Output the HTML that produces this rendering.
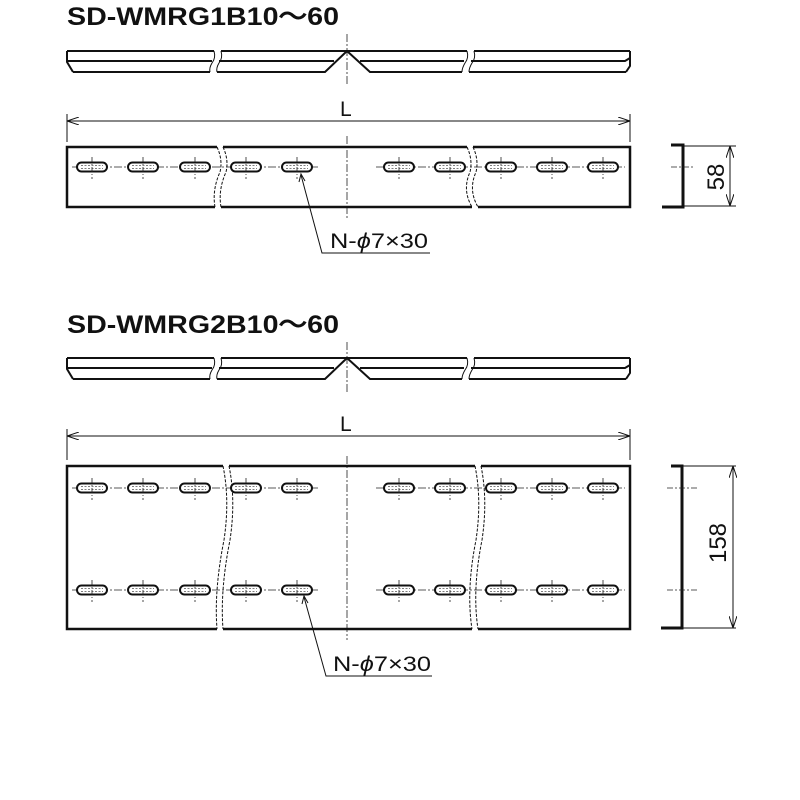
<!DOCTYPE html>
<html><head><meta charset="utf-8"><style>
html,body{margin:0;padding:0;background:#fff;}
svg{display:block;}
text{font-family:"Liberation Sans",Arial,sans-serif;fill:#111;}
</style></head><body>
<svg width="800" height="800" viewBox="0 0 800 800" xmlns="http://www.w3.org/2000/svg">
<defs>
<g id="slot">
 <rect x="-15" y="-4.5" width="30" height="9" rx="4.5" fill="#fff" stroke="#111" stroke-width="2"/>
 <line x1="-11" y1="-1.5" x2="11" y2="-1.5" stroke="#555" stroke-width="0.7" stroke-dasharray="2 1.5"/>
 <line x1="-11" y1="1.5" x2="11" y2="1.5" stroke="#555" stroke-width="0.7" stroke-dasharray="2 1.5"/>
 <line x1="0" y1="-10" x2="0" y2="12" stroke="#222" stroke-width="0.8" stroke-dasharray="5 2 1 2"/>
</g>
<g id="row">
 <line x1="72" y1="0" x2="320" y2="0" stroke="#222" stroke-width="0.8" stroke-dasharray="8 2 2 2"/>
 <line x1="376" y1="0" x2="625" y2="0" stroke="#222" stroke-width="0.8" stroke-dasharray="8 2 2 2"/>
 <use href="#slot" x="92"/><use href="#slot" x="143"/><use href="#slot" x="195"/><use href="#slot" x="246"/><use href="#slot" x="297"/>
 <use href="#slot" x="399"/><use href="#slot" x="450"/><use href="#slot" x="501"/><use href="#slot" x="552"/><use href="#slot" x="603"/>
</g>
<g id="profile" fill="none" stroke="#111" stroke-width="2">
 <path d="M67 51 H214 M221 51 H467 M474 51 H630"/>
 <path d="M67 61 H212 M219 61 H334 M360 61 H464 M471 61 H625 L630 58"/>
 <path d="M73 72 H210 M217 72 H325 L347 51 L370 72 H462 M469 72 H626"/>
 <path d="M67 51 V62 L73 72"/>
 <path d="M630 51 V66 L626 72"/>
 <path d="M214 51 Q216 58 212 63 Q209 68 210 72" stroke-width="1"/>
 <path d="M221 51 Q223 58 219 63 Q216 68 217 72" stroke-width="1"/>
 <path d="M467 51 Q469 58 465 63 Q462 68 462 72" stroke-width="1"/>
 <path d="M474 51 Q476 58 472 63 Q469 68 469 72" stroke-width="1"/>
</g>
<marker id="ar" viewBox="0 0 12 8" refX="12" refY="4" markerWidth="12" markerHeight="8" orient="auto-start-reverse" markerUnits="userSpaceOnUse">
 <path d="M0 0 L12 4 L0 8" fill="none" stroke="#111" stroke-width="1"/>
</marker>
</defs>

<!-- ===== Section 1 ===== -->
<text x="67" y="25" font-size="25" font-weight="bold" textLength="272" lengthAdjust="spacingAndGlyphs">SD-WMRG1B10～60</text>
<line x1="347" y1="34" x2="347" y2="84" stroke="#222" stroke-width="0.8" stroke-dasharray="8 2 2 2"/>
<use href="#profile"/>

<line x1="67" y1="114" x2="67" y2="142" stroke="#111" stroke-width="1"/>
<line x1="630" y1="114" x2="630" y2="142" stroke="#111" stroke-width="1"/>
<line x1="67" y1="121" x2="630" y2="121" stroke="#111" stroke-width="1" marker-start="url(#ar)" marker-end="url(#ar)"/>
<text x="340" y="116" font-size="21">L</text>

<line x1="347" y1="136" x2="347" y2="220" stroke="#222" stroke-width="0.8" stroke-dasharray="8 2 2 2"/>
<path d="M217 147 H67 V207 H215 M221 207 H472 M478 207 H630 V147 H473 M467 147 H223" fill="none" stroke="#111" stroke-width="2.5"/>
<path d="M217 147 Q223 160 220 172 Q212 190 215 207" fill="none" stroke="#111" stroke-width="1" stroke-dasharray="3 1.5"/>
<path d="M223 147 Q229 160 226 172 Q218 190 221 207" fill="none" stroke="#111" stroke-width="1" stroke-dasharray="3 1.5"/>
<path d="M467 147 Q473 160 470 172 Q462 190 472 207" fill="none" stroke="#111" stroke-width="1" stroke-dasharray="3 1.5"/>
<path d="M473 147 Q479 160 476 172 Q468 190 478 207" fill="none" stroke="#111" stroke-width="1" stroke-dasharray="3 1.5"/>
<use href="#row" y="167"/>

<path d="M301 175 L322 253 H430" fill="none" stroke="#111" stroke-width="1"/>
<path d="M299 182 L301 174 L305 181" fill="none" stroke="#111" stroke-width="1"/>
<text x="330" y="248" font-size="21" textLength="98" lengthAdjust="spacingAndGlyphs">N-<tspan font-style="italic">ϕ</tspan>7×30</text>

<path d="M671 145 H683 V207 H662" fill="none" stroke="#111" stroke-width="3"/>
<line x1="671" y1="167" x2="694" y2="167" stroke="#222" stroke-width="0.8" stroke-dasharray="6 2 2 2"/>
<line x1="684" y1="146" x2="736" y2="146" stroke="#111" stroke-width="1"/>
<line x1="684" y1="206" x2="736" y2="206" stroke="#111" stroke-width="1"/>
<line x1="730" y1="146" x2="730" y2="206" stroke="#111" stroke-width="1" marker-start="url(#ar)" marker-end="url(#ar)"/>
<text x="0" y="0" font-size="24" text-anchor="middle" transform="translate(724 177) rotate(-90)">58</text>

<!-- ===== Section 2 ===== -->
<text x="67" y="333" font-size="25" font-weight="bold" textLength="272" lengthAdjust="spacingAndGlyphs">SD-WMRG2B10～60</text>
<line x1="347" y1="342" x2="347" y2="392" stroke="#222" stroke-width="0.8" stroke-dasharray="8 2 2 2"/>
<use href="#profile" y="307"/>

<line x1="67" y1="429" x2="67" y2="460" stroke="#111" stroke-width="1"/>
<line x1="630" y1="429" x2="630" y2="460" stroke="#111" stroke-width="1"/>
<line x1="67" y1="436" x2="630" y2="436" stroke="#111" stroke-width="1" marker-start="url(#ar)" marker-end="url(#ar)"/>
<text x="340" y="431" font-size="21">L</text>

<line x1="347" y1="456" x2="347" y2="640" stroke="#222" stroke-width="0.8" stroke-dasharray="8 2 2 2"/>
<path d="M223 466 H67 V629 H217 M223 629 H472 M478 629 H630 V466 H481 M475 466 H229" fill="none" stroke="#111" stroke-width="2.5"/>
<path d="M223 466 Q230 500 224 540 Q214 590 217 629" fill="none" stroke="#111" stroke-width="1" stroke-dasharray="3 1.5"/>
<path d="M229 466 Q236 500 230 540 Q220 590 223 629" fill="none" stroke="#111" stroke-width="1" stroke-dasharray="3 1.5"/>
<path d="M475 466 Q482 500 476 540 Q466 590 472 629" fill="none" stroke="#111" stroke-width="1" stroke-dasharray="3 1.5"/>
<path d="M481 466 Q488 500 482 540 Q472 590 478 629" fill="none" stroke="#111" stroke-width="1" stroke-dasharray="3 1.5"/>
<use href="#row" y="488"/>
<use href="#row" y="590"/>

<path d="M304 597 L326 676 H432" fill="none" stroke="#111" stroke-width="1"/>
<path d="M302 604 L304 596 L308 603" fill="none" stroke="#111" stroke-width="1"/>
<text x="333" y="671" font-size="21" textLength="98" lengthAdjust="spacingAndGlyphs">N-<tspan font-style="italic">ϕ</tspan>7×30</text>

<path d="M671 466 H682 V628 H661" fill="none" stroke="#111" stroke-width="3"/>
<line x1="667" y1="488" x2="697" y2="488" stroke="#222" stroke-width="0.8" stroke-dasharray="6 2 2 2"/>
<line x1="667" y1="590" x2="697" y2="590" stroke="#222" stroke-width="0.8" stroke-dasharray="6 2 2 2"/>
<line x1="683" y1="466" x2="736" y2="466" stroke="#111" stroke-width="1"/>
<line x1="683" y1="628" x2="736" y2="628" stroke="#111" stroke-width="1"/>
<line x1="733" y1="466" x2="733" y2="628" stroke="#111" stroke-width="1" marker-start="url(#ar)" marker-end="url(#ar)"/>
<text x="0" y="0" font-size="24" text-anchor="middle" transform="translate(726 543) rotate(-90)">158</text>
</svg>
</body></html>
